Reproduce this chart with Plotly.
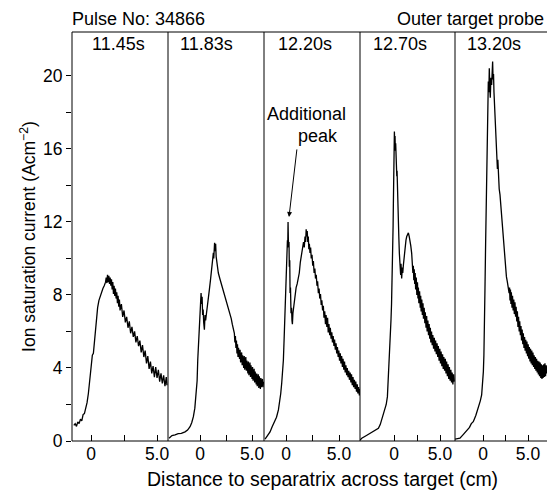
import plotly.graph_objects as go

# ---- data (x: distance to separatrix in cm, y: ion saturation current in A/cm^2) ----
panel_labels = ["11.45s", "11.83s", "12.20s", "12.70s", "13.20s"]

p1 = [(-1.30, 0.85), (-1.20, 0.95), (-1.10, 0.80), (-1.00, 1.05), (-0.90, 0.95), (-0.80, 1.20),
      (-0.70, 1.10), (-0.60, 1.45), (-0.50, 1.50), (-0.40, 1.75), (-0.30, 2.10), (-0.20, 2.60),
      (-0.10, 3.30), (0.00, 3.90), (0.05, 4.60), (0.10, 4.70), (0.18, 4.80), (0.25, 5.40),
      (0.30, 5.90), (0.40, 6.80), (0.50, 7.30), (0.60, 7.70), (0.70, 7.95), (0.80, 8.20),
      (0.90, 8.35), (1.00, 8.50), (1.10, 8.70), (1.15, 8.95), (1.20, 8.65), (1.25, 9.10),
      (1.30, 8.70), (1.35, 9.05), (1.40, 8.60), (1.45, 8.95), (1.50, 8.50), (1.55, 8.85),
      (1.60, 8.30), (1.65, 8.70), (1.70, 8.05), (1.75, 8.50), (1.80, 7.95), (1.85, 8.35),
      (1.90, 7.80), (1.95, 8.15), (2.00, 7.55), (2.05, 7.95), (2.10, 7.35), (2.15, 7.75),
      (2.20, 7.15), (2.30, 7.50), (2.40, 6.80), (2.50, 7.15), (2.60, 6.50), (2.70, 6.80),
      (2.80, 6.20), (2.90, 6.55), (3.00, 5.90), (3.10, 6.25), (3.20, 5.70), (3.30, 6.00),
      (3.40, 5.40), (3.50, 5.75), (3.60, 5.20), (3.70, 5.50), (3.80, 4.85), (3.90, 5.25),
      (4.00, 4.60), (4.10, 4.95), (4.20, 4.25), (4.30, 4.65), (4.40, 3.95), (4.50, 4.35),
      (4.60, 3.70), (4.70, 4.10), (4.80, 3.50), (4.90, 4.05), (5.00, 3.45), (5.10, 3.90),
      (5.20, 3.25), (5.30, 3.70), (5.40, 3.15), (5.50, 3.60), (5.60, 3.00), (5.70, 3.50),
      (5.75, 3.05)]

p2 = [(-2.98, 0.15), (-2.70, 0.30), (-2.40, 0.33), (-2.10, 0.40), (-1.80, 0.42), (-1.44, 0.50),
      (-1.20, 0.60), (-0.96, 0.78), (-0.80, 1.00), (-0.64, 1.33), (-0.50, 1.80), (-0.42, 2.25),
      (-0.32, 2.80), (-0.28, 3.30), (-0.22, 4.44), (-0.16, 5.20), (-0.10, 5.90), (-0.05, 6.60),
      (0.00, 7.20), (0.05, 7.00), (0.10, 8.10), (0.15, 7.50), (0.20, 7.90), (0.25, 6.90),
      (0.30, 7.20), (0.35, 6.50), (0.42, 6.10), (0.48, 6.90), (0.54, 6.60), (0.60, 6.90),
      (0.70, 7.30), (0.80, 7.75), (0.90, 8.30), (1.00, 8.80), (1.10, 9.40), (1.20, 9.90),
      (1.28, 10.30), (1.32, 10.00), (1.35, 10.60), (1.40, 10.85), (1.45, 10.40), (1.50, 10.80),
      (1.55, 10.10), (1.60, 9.90), (1.70, 9.40), (1.76, 9.20), (1.90, 8.90), (2.00, 8.70),
      (2.08, 8.60), (2.20, 8.30), (2.30, 8.10), (2.40, 7.90), (2.55, 7.60), (2.72, 7.35),
      (2.85, 7.00), (3.00, 6.70), (3.10, 6.40), (3.20, 6.10), (3.30, 5.90), (3.35, 5.40),
      (3.40, 5.75), (3.45, 5.10), (3.50, 5.50), (3.55, 4.80), (3.60, 5.30), (3.65, 4.60),
      (3.70, 5.10), (3.80, 4.50), (3.85, 5.00), (3.90, 4.30), (4.00, 4.85), (4.05, 4.15),
      (4.10, 4.70), (4.20, 4.00), (4.25, 4.65), (4.30, 3.90), (4.40, 4.60), (4.45, 3.85),
      (4.50, 4.40), (4.60, 3.70), (4.65, 4.35), (4.70, 3.60), (4.80, 4.30), (4.85, 3.50),
      (4.90, 4.15), (5.00, 3.40), (5.05, 4.05), (5.10, 3.30), (5.20, 3.95), (5.25, 3.20),
      (5.30, 3.80), (5.40, 3.10), (5.45, 3.70), (5.50, 3.00), (5.60, 3.65), (5.65, 2.90),
      (5.70, 3.55), (5.80, 2.85), (5.85, 3.45), (5.90, 2.95), (6.00, 3.40), (6.05, 2.95),
      (6.10, 3.25)]

p3 = [(-1.98, 0.10), (-1.82, 0.25), (-1.70, 0.40), (-1.51, 0.50), (-1.30, 0.80), (-1.04, 1.15),
      (-0.90, 1.30), (-0.72, 1.70), (-0.60, 2.10), (-0.50, 2.60), (-0.41, 3.16), (-0.30, 3.90),
      (-0.25, 4.44), (-0.18, 5.60), (-0.13, 6.60), (-0.08, 7.40), (-0.03, 8.10), (0.00, 9.30),
      (0.03, 9.90), (0.08, 10.60), (0.13, 11.00), (0.16, 10.60), (0.19, 12.00), (0.22, 11.00),
      (0.25, 10.65), (0.28, 10.90), (0.31, 9.55), (0.35, 9.90), (0.38, 8.10), (0.42, 8.40),
      (0.47, 7.00), (0.52, 7.30), (0.56, 6.60), (0.60, 6.40), (0.65, 7.00), (0.69, 7.20),
      (0.75, 7.70), (0.85, 8.10), (0.95, 8.40), (1.05, 8.60), (1.15, 8.90), (1.25, 9.20),
      (1.35, 9.80), (1.42, 10.10), (1.50, 10.40), (1.57, 10.50), (1.65, 10.90), (1.72, 10.60),
      (1.79, 11.20), (1.85, 10.90), (1.90, 11.60), (1.95, 11.20), (2.00, 11.50), (2.05, 10.90),
      (2.10, 11.20), (2.15, 10.50), (2.20, 10.80), (2.26, 10.30), (2.32, 10.60), (2.38, 10.00),
      (2.45, 10.20), (2.52, 9.60), (2.58, 9.85), (2.65, 9.20), (2.72, 9.45), (2.78, 8.90),
      (2.85, 9.10), (2.92, 8.50), (2.98, 8.75), (3.05, 8.10), (3.12, 8.35), (3.18, 7.80),
      (3.25, 8.05), (3.32, 7.45), (3.38, 7.70), (3.45, 7.15), (3.52, 7.40), (3.58, 6.75),
      (3.65, 7.10), (3.72, 6.40), (3.78, 6.90), (3.85, 6.25), (3.92, 6.75), (3.98, 5.95),
      (4.05, 6.40), (4.12, 5.80), (4.18, 6.20), (4.25, 5.60), (4.32, 5.95), (4.38, 5.40),
      (4.45, 5.75), (4.52, 5.20), (4.58, 5.55), (4.65, 5.00), (4.72, 5.35), (4.78, 4.80),
      (4.85, 5.15), (4.92, 4.60), (4.98, 4.95), (5.05, 4.40), (5.12, 4.80), (5.18, 4.25),
      (5.25, 4.65), (5.32, 4.05), (5.38, 4.50), (5.45, 3.90), (5.52, 4.35), (5.58, 3.75),
      (5.65, 4.15), (5.72, 3.60), (5.78, 4.00), (5.85, 3.50), (5.92, 3.85), (5.98, 3.35),
      (6.05, 3.75), (6.12, 3.20), (6.18, 3.65), (6.25, 3.05), (6.32, 3.50), (6.38, 2.95),
      (6.45, 3.35), (6.52, 2.85), (6.58, 3.25), (6.65, 2.70), (6.72, 3.10), (6.78, 2.60),
      (6.85, 2.95), (6.92, 2.50), (6.97, 2.85)]

p4 = [(-3.70, 0.05), (-3.51, 0.15), (-3.00, 0.30), (-2.61, 0.42), (-2.20, 0.55), (-1.70, 0.70),
      (-1.50, 0.90), (-1.34, 1.15), (-1.15, 1.40), (-0.98, 1.70), (-0.85, 2.00), (-0.72, 2.43),
      (-0.62, 3.34), (-0.55, 4.00), (-0.47, 4.81), (-0.40, 5.70), (-0.33, 6.63), (-0.27, 7.50),
      (-0.22, 8.45), (-0.18, 9.30), (-0.14, 10.28), (-0.10, 11.80), (-0.07, 13.02), (-0.04, 14.40),
      (0.00, 15.76), (0.04, 16.95), (0.08, 16.10), (0.11, 16.70), (0.14, 15.90), (0.18, 16.30),
      (0.22, 15.10), (0.25, 15.60), (0.30, 14.50), (0.33, 14.80), (0.36, 13.90), (0.42, 13.00),
      (0.47, 12.10), (0.52, 11.20), (0.58, 10.28), (0.62, 9.50), (0.66, 10.10), (0.72, 9.10),
      (0.76, 9.70), (0.83, 8.90), (0.90, 9.50), (0.95, 9.20), (1.01, 9.60), (1.10, 10.20),
      (1.20, 10.65), (1.30, 11.00), (1.38, 11.20), (1.45, 11.30), (1.56, 11.40), (1.65, 11.20),
      (1.74, 11.00), (1.82, 10.70), (1.92, 10.28), (2.00, 9.80), (2.05, 9.20), (2.10, 9.60),
      (2.15, 8.80), (2.20, 9.40), (2.25, 8.60), (2.30, 9.20), (2.35, 8.30), (2.42, 8.95),
      (2.48, 8.00), (2.55, 8.70), (2.60, 7.80), (2.65, 8.40), (2.70, 7.55), (2.78, 8.20),
      (2.85, 7.30), (2.90, 7.95), (2.95, 7.10), (3.02, 7.75), (3.08, 6.90), (3.15, 7.55),
      (3.20, 6.70), (3.28, 7.30), (3.35, 6.45), (3.40, 7.05), (3.48, 6.20), (3.55, 6.85),
      (3.60, 6.00), (3.68, 6.60), (3.75, 5.80), (3.82, 6.40), (3.88, 5.60), (3.95, 6.20),
      (4.00, 5.40), (4.08, 6.00), (4.15, 5.25), (4.22, 5.80), (4.30, 5.05), (4.38, 5.65),
      (4.45, 4.90), (4.52, 5.50), (4.60, 4.75), (4.68, 5.35), (4.75, 4.60), (4.82, 5.20),
      (4.90, 4.40), (4.98, 5.05), (5.05, 4.25), (5.12, 4.90), (5.20, 4.10), (5.28, 4.75),
      (5.35, 3.95), (5.42, 4.60), (5.50, 3.85), (5.58, 4.50), (5.65, 3.70), (5.72, 4.35),
      (5.80, 3.55), (5.88, 4.20), (5.95, 3.40), (6.02, 4.05), (6.10, 3.30), (6.18, 3.90),
      (6.25, 3.20), (6.32, 3.75), (6.40, 3.10), (6.48, 3.65), (6.55, 3.25)]

p5 = [(-3.11, 0.10), (-2.80, 0.12), (-2.56, 0.15), (-2.20, 0.35), (-1.81, 0.60), (-1.50, 0.75),
      (-1.30, 0.95), (-1.08, 1.06), (-0.80, 1.40), (-0.52, 1.79), (-0.30, 2.20), (-0.15, 2.52),
      (-0.05, 3.00), (0.04, 3.80), (0.10, 4.70), (0.15, 5.63), (0.22, 8.37), (0.30, 11.10),
      (0.36, 13.00), (0.41, 14.76), (0.48, 17.50), (0.53, 18.80), (0.59, 19.69), (0.65, 19.10),
      (0.70, 20.42), (0.75, 19.40), (0.81, 18.80), (0.88, 19.90), (0.96, 19.50), (1.02, 20.20),
      (1.07, 20.78), (1.12, 19.80), (1.17, 20.10), (1.22, 19.10), (1.30, 18.30), (1.37, 17.50),
      (1.45, 16.50), (1.52, 15.67), (1.60, 14.90), (1.65, 15.40), (1.70, 14.20), (1.75, 14.50),
      (1.80, 13.80), (1.89, 13.48), (1.98, 12.90), (2.07, 12.38), (2.17, 11.70), (2.26, 11.10),
      (2.35, 10.40), (2.44, 9.82), (2.52, 9.50), (2.60, 9.00), (2.70, 8.73), (2.80, 8.40),
      (2.90, 8.10), (2.95, 8.40), (3.00, 7.70), (3.05, 8.30), (3.10, 7.50), (3.15, 8.15),
      (3.22, 7.30), (3.28, 7.95), (3.35, 7.15), (3.42, 7.75), (3.48, 6.95), (3.55, 7.60),
      (3.62, 6.80), (3.68, 7.35), (3.75, 6.55), (3.82, 7.10), (3.88, 6.25), (3.95, 6.80),
      (4.02, 6.00), (4.08, 6.55), (4.15, 5.80), (4.22, 6.30), (4.28, 5.50), (4.35, 6.10),
      (4.42, 5.30), (4.48, 5.90), (4.55, 5.10), (4.62, 5.70), (4.68, 4.95), (4.75, 5.55),
      (4.82, 4.80), (4.88, 5.45), (4.95, 4.65), (5.02, 5.30), (5.08, 4.50), (5.15, 5.15),
      (5.22, 4.35), (5.28, 5.05), (5.35, 4.25), (5.42, 4.95), (5.48, 4.15), (5.55, 4.85),
      (5.62, 4.05), (5.68, 4.70), (5.75, 3.95), (5.82, 4.60), (5.88, 3.85), (5.95, 4.50),
      (6.02, 3.75), (6.08, 4.40), (6.15, 3.65), (6.22, 4.35), (6.28, 3.55), (6.35, 4.30),
      (6.42, 3.45), (6.48, 4.20), (6.55, 3.40), (6.62, 4.15), (6.68, 3.45), (6.75, 4.20),
      (6.82, 3.50), (6.88, 4.25), (6.95, 3.55), (7.02, 4.15), (7.10, 3.70)]

panels = [p1, p2, p3, p4, p5]

y_tick_vals = [0, 4, 8, 12, 16, 20]
y_tick_text = ["0", "4", "8", "12", "16", "20"]
y_minor_vals = [2, 6, 10, 14, 18]
x_tick_vals = [0, 5]
x_tick_text = ["0", "5.0"]
x_minor_vals = [2.5]

# ---- layout geometry (page has an 8px body margin) ----
W, H = 547, 482
ML, MR, MT, MB = 64, 7, 24, 49
PW = W - ML - MR            # 476
PH = H - MT - MB            # 409
PL, PB = 72, 441            # plot-area left / bottom in page pixels
bounds_px = [72, 168, 264, 360, 455, 548]
bounds = [(b - PL) / PW for b in bounds_px]
x_ranges = [[-1.44, 5.83], [-3.08, 6.15], [-2.08, 6.98], [-3.70, 6.63], [-3.11, 7.22]]
label_px = [118, 206, 305, 400, 494]


def px_x(px):
    return (px - PL) / PW


def px_y(py):
    return (PB - py) / PH


FONT = "Liberation Sans, Arial, Helvetica, sans-serif"

fig = go.Figure()
for i, pts in enumerate(panels):
    xs = [p[0] for p in pts]
    ys = [p[1] for p in pts]
    fig.add_trace(go.Scatter(
        x=xs, y=ys, mode="lines",
        line=dict(color="black", width=1.3),
        xaxis="x" if i == 0 else f"x{i+1}", yaxis="y",
        showlegend=False, hoverinfo="skip"))

layout = dict(
    width=W, height=H,
    margin=dict(l=ML, r=MR, t=MT, b=MB),
    paper_bgcolor="white", plot_bgcolor="white",
    font=dict(family=FONT, size=17.5, color="black"),
    yaxis=dict(range=[0, 22.4], tickvals=y_tick_vals, ticktext=y_tick_text,
               ticks="outside", ticklen=5, tickwidth=1, tickcolor="black",
               minor=dict(tickvals=y_minor_vals, ticks="outside", ticklen=5,
                          tickwidth=1, tickcolor="black", showgrid=False),
               showgrid=False, zeroline=False, showline=False, anchor="x",
               tickfont=dict(size=17.5),
               title=dict(text="Ion saturation current (Acm<sup>−2</sup>)",
                          font=dict(size=17.5), standoff=2)),
)
for i in range(5):
    key = "xaxis" if i == 0 else f"xaxis{i+1}"
    layout[key] = dict(domain=[bounds[i], bounds[i+1]], range=x_ranges[i], anchor="y",
                       tickvals=x_tick_vals, ticktext=x_tick_text,
                       ticks="inside", ticklen=6, tickwidth=1, tickcolor="black",
                       minor=dict(tickvals=x_minor_vals, ticks="inside", ticklen=6,
                                  tickwidth=1, tickcolor="black", showgrid=False),
                       showgrid=False, zeroline=False, showline=False,
                       tickfont=dict(size=17.5))
fig.update_layout(**layout)

# frame and panel dividers
fig.add_shape(type="rect", xref="paper", yref="paper", x0=0, y0=0, x1=1, y1=1,
              line=dict(color="black", width=1))
for b in bounds[1:-1]:
    fig.add_shape(type="line", xref="paper", yref="paper", x0=b, y0=0, x1=b, y1=1,
                  line=dict(color="black", width=1))

ann = []
for lab, px in zip(panel_labels, label_px):
    ann.append(dict(text=lab, x=px_x(px), y=px_y(44), xref="paper", yref="paper",
                    xanchor="center", yanchor="middle", showarrow=False, font=dict(size=18)))
ann.append(dict(text="Pulse No: 34866", x=px_x(70), y=px_y(19),
                xref="paper", yref="paper", xanchor="left", yanchor="middle",
                showarrow=False, font=dict(size=18)))
ann.append(dict(text="Outer target probe", x=px_x(546), y=px_y(19),
                xref="paper", yref="paper", xanchor="right", yanchor="middle",
                showarrow=False, font=dict(size=18)))
ann.append(dict(text="Distance to separatrix across target (cm)", x=px_x(322),
                y=px_y(479), xref="paper", yref="paper", xanchor="center",
                yanchor="middle", showarrow=False, font=dict(size=19.5)))
ann.append(dict(text="Additional", x=px_x(306), y=px_y(114), xref="paper",
                yref="paper", xanchor="center", yanchor="middle", showarrow=False,
                font=dict(size=18)))
ann.append(dict(text="peak", x=px_x(318), y=px_y(136), xref="paper",
                yref="paper", xanchor="center", yanchor="middle", showarrow=False,
                font=dict(size=18)))
ann.append(dict(text="", x=0.28, y=12.27, xref="x3", yref="y", ax=1.04, ay=16.05,
                axref="x3", ayref="y", showarrow=True, arrowhead=2, arrowsize=1,
                arrowwidth=1, arrowcolor="black"))
fig.update_layout(annotations=ann)

fig.write_html("out.html")
